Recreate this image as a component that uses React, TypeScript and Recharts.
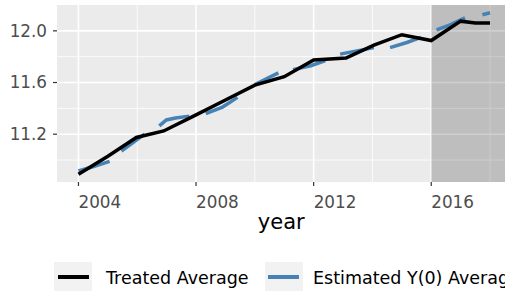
import {
  LineChart,
  Line,
  XAxis,
  YAxis,
  CartesianGrid,
  ReferenceArea,
} from "recharts";

const treatedYears = [
  2004, 2005, 2005.97, 2006.9, 2008, 2009, 2010, 2011, 2012, 2013.1, 2014.05,
  2015, 2016, 2017, 2017.5, 2018,
];
const treatedValues = [
  10.89, 11.03, 11.175, 11.225, 11.35, 11.465, 11.58, 11.645, 11.775, 11.79,
  11.89, 11.97, 11.925, 12.075, 12.06, 12.06,
];

// estimated Y(0) comes in short pieces; a null value breaks the line
const estimatedYears = [
  2004, 2004.38, 2004.72, 2005.06, 2005.25,
  2005.46, 2006.25, 2006.5,
  2006.75, 2006.99, 2007.3, 2007.77, 2008.1,
  2008.33, 2008.9, 2009.41, 2009.7,
  2010.0, 2010.8, 2011.1,
  2011.3, 2011.9, 2012.4, 2012.7,
  2012.9, 2013.47, 2014.05, 2014.3,
  2014.6, 2015.17, 2015.65, 2015.9,
  2016.18, 2016.64, 2017.15, 2017.45,
  2017.74, 2018.0,
];
const estimatedValues = [
  10.915, 10.94, 10.965, 10.99, null,
  11.07, 11.2, null,
  11.265, 11.31, 11.325, 11.34, null,
  11.36, 11.41, 11.485, null,
  11.585, 11.675, null,
  11.7, 11.73, 11.77, null,
  11.82, 11.845, 11.87, null,
  11.87, 11.91, 11.95, null,
  12.008, 12.046, 12.1, null,
  12.125, 12.14,
];

const xTicks = [2004, 2008, 2012, 2016];
const xMinor = [2006, 2010, 2014, 2018];
const yTicks = [11.2, 11.6, 12.0];
const yMinor = [11.0, 11.4, 11.8];
const treatmentStart = 2016;
const xDomain: [number, number] = [2003.27, 2018.73];
const yDomain: [number, number] = [10.83, 12.2];

const treatedData = treatedYears.map((year, i) => ({
  year,
  value: treatedValues[i],
}));
const estimatedData = estimatedYears.map((year, i) => ({
  year,
  value: estimatedValues[i],
}));

const FONT = "DejaVu Sans";

function YearTick(props: any) {
  const { x, y, payload } = props;
  return (
    <text
      x={x}
      y={y}
      dy={11.5}
      textAnchor="start"
      fontSize={16.8}
      fontFamily={FONT}
      fill="#4D4D4D"
    >
      {payload.value}
    </text>
  );
}

export default function App() {
  return (
    <div
      style={{
        position: "absolute",
        left: 0,
        top: 0,
        width: 505,
        height: 292,
        overflow: "hidden",
        background: "#fff",
      }}
    >
      <LineChart
        width={520}
        height={240}
        margin={{ top: 5, right: 8.5, left: 0, bottom: 0 }}
      >
        <CartesianGrid
          fill="#EBEBEB"
          stroke="#fff"
          strokeWidth={0.8}
          horizontalValues={yMinor}
          verticalValues={xMinor}
        />
        <CartesianGrid
          stroke="#fff"
          strokeWidth={1.6}
          horizontalValues={yTicks}
          verticalValues={xTicks}
        />
        <XAxis
          dataKey="year"
          type="number"
          domain={xDomain}
          allowDataOverflow
          ticks={xTicks}
          axisLine={false}
          tickLine={{ stroke: "#333", strokeWidth: 1.2 }}
          tickSize={4}
          tickMargin={10}
          height={58}
          tick={<YearTick />}
          label={{
            value: "year",
            position: "insideTop",
            offset: 32,
            dx: -3,
            fontSize: 21,
            fontFamily: FONT,
            fill: "#000",
          }}
        />
        <YAxis
          type="number"
          domain={yDomain}
          allowDataOverflow
          ticks={yTicks}
          tickFormatter={(v: number) => v.toFixed(1)}
          axisLine={false}
          tickLine={{ stroke: "#333", strokeWidth: 1.2 }}
          tickSize={4}
          tickMargin={6}
          width={57}
          tick={{ fontSize: 16.8, fontFamily: FONT, fill: "#4D4D4D" }}
        />
        <ReferenceArea
          x1={treatmentStart}
          x2={xDomain[1]}
          fill="#000"
          fillOpacity={0.19}
          stroke="none"
        />
        <Line
          data={estimatedData}
          dataKey="value"
          stroke="#4682B4"
          strokeWidth={3.5}
          dot={false}
          activeDot={false}
          isAnimationActive={false}
        />
        <Line
          data={treatedData}
          dataKey="value"
          stroke="#000"
          strokeWidth={3.5}
          dot={false}
          activeDot={false}
          isAnimationActive={false}
        />
      </LineChart>
      <svg
        width={505}
        height={37}
        style={{ position: "absolute", left: 0, top: 255 }}
      >
        <rect x={54} y={7} width={38} height={29} fill="#F2F2F2" />
        <line x1={58} x2={89} y1={22} y2={22} stroke="#000" strokeWidth={4} />
        <text x={106} y={28.7} fontSize={17.5} fontFamily={FONT} fill="#000">
          Treated Average
        </text>
        <rect x={265} y={7} width={38} height={29} fill="#F2F2F2" />
        <line
          x1={268}
          x2={299}
          y1={22}
          y2={22}
          stroke="#4682B4"
          strokeWidth={4}
        />
        <text x={313} y={28.7} fontSize={17.5} fontFamily={FONT} fill="#000">
          Estimated Y(0) Average
        </text>
      </svg>
    </div>
  );
}
